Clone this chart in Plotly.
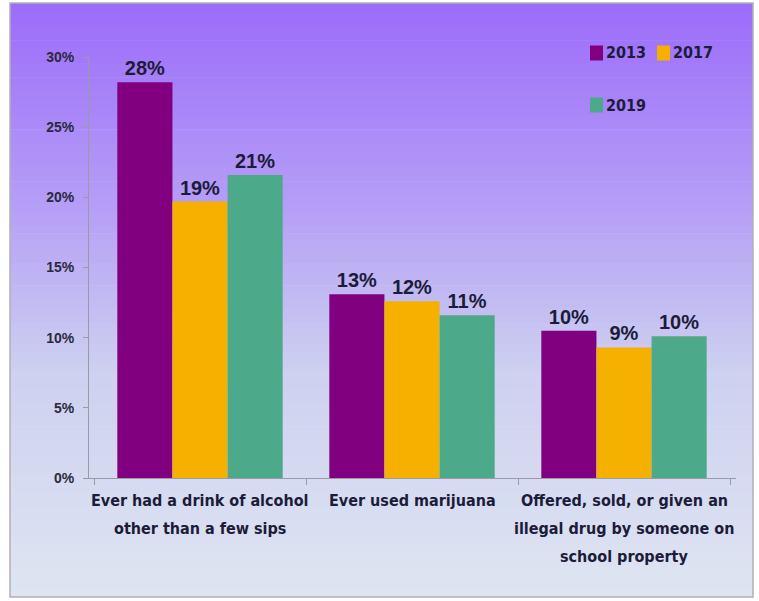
import plotly.graph_objects as go

categories = [
    "Ever had a drink of alcohol<br>other than a few sips",
    "Ever used marijuana",
    "Offered, sold, or given an<br>illegal drug by someone on<br>school property",
]
years = ["2013", "2017", "2019"]
values_2013 = [28.2, 13.1, 10.5]
values_2017 = [19.7, 12.6, 9.3]
values_2019 = [21.6, 11.6, 10.1]
labels_2013 = ["28%", "13%", "10%"]
labels_2017 = ["19%", "12%", "9%"]
labels_2019 = ["21%", "11%", "10%"]
y_ticks = [0, 5, 10, 15, 20, 25, 30]
y_tick_labels = ["0%", "5%", "10%", "15%", "20%", "25%", "30%"]

colors = {"2013": "#800080", "2017": "#F5B000", "2019": "#4CA98A"}
series = {
    "2013": (values_2013, labels_2013),
    "2017": (values_2017, labels_2017),
    "2019": (values_2019, labels_2019),
}
# legend placement in pixels (left of swatch, vertical centre)
legend_pos = {"2013": (590, 53), "2017": (657, 53), "2019": (590, 105)}

W, H = 759, 601
ML, MR, MT, MB = 89, 23, 57, 123
PW, PH = W - ML - MR, H - MT - MB

NARROW = "DejaVu Sans Condensed, Liberation Sans Narrow, Arial Narrow, sans-serif"
ARIAL = "Liberation Sans, Arial, sans-serif"
TXT = "#1c1c3a"

fig = go.Figure()
for yr in years:
    vals, labs = series[yr]
    fig.add_trace(go.Bar(
        x=categories, y=vals, name=yr,
        marker=dict(color=colors[yr], line=dict(width=0)),
        text=labs, textposition="outside", cliponaxis=False,
        textfont=dict(family=ARIAL, size=20, color=TXT),
        texttemplate="<b>%{text}</b>",
        hoverinfo="skip",
    ))

def py(p):
    return (H - MB - p) / PH

def pxx(x):
    return (x - ML) / PW

stops = [(0.0, (156, 108, 250)), (0.35, (182, 160, 246)),
         (0.62, (205, 208, 240)), (1.0, (222, 229, 241))]

def col_at(t):
    for (t0, c0), (t1, c1) in zip(stops[:-1], stops[1:]):
        if t0 <= t <= t1:
            f = (t - t0) / (t1 - t0)
            return "rgb(%d,%d,%d)" % tuple(round(a + (b - a) * f) for a, b in zip(c0, c1))
    return "rgb(%d,%d,%d)" % stops[-1][1]

top, bot, left, right = 3, 597, 10, 753
n = 80
shapes = []
for i in range(n):
    p0 = top + (bot - top) * i / n
    p1 = top + (bot - top) * (i + 1) / n + 0.6
    shapes.append(dict(type="rect", xref="paper", yref="paper", layer="below",
                       x0=pxx(left), x1=pxx(right),
                       y0=py(min(p1, bot)), y1=py(p0),
                       fillcolor=col_at(i / (n - 1)), line=dict(width=0)))
shapes.append(dict(type="rect", xref="paper", yref="paper", layer="below",
                   x0=pxx(left), x1=pxx(right), y0=py(bot), y1=py(top),
                   fillcolor="rgba(0,0,0,0)", line=dict(width=1.5, color="#b0b0b8")))

annotations = []
# manual legend
for yr in years:
    lx, ly = legend_pos[yr]
    shapes.append(dict(type="rect", xref="paper", yref="paper",
                       x0=pxx(lx), x1=pxx(lx + 13), y0=py(ly + 7.5), y1=py(ly - 7.5),
                       fillcolor=colors[yr], line=dict(width=0)))
    annotations.append(dict(xref="paper", yref="paper", x=pxx(lx + 14), y=py(ly),
                            xanchor="left", yanchor="middle", showarrow=False,
                            text="<b>" + yr + "</b>",
                            font=dict(family=NARROW, size=16, color=TXT)))
# category labels, one annotation per line for the wide line spacing
for cat in categories:
    for k, line in enumerate(cat.split("<br>")):
        annotations.append(dict(xref="x", yref="paper", x=cat, y=py(500 + 28 * k),
                                xanchor="center", yanchor="middle", showarrow=False,
                                text="<b>" + line + "</b>",
                                font=dict(family=NARROW, size=16, color=TXT)))

fig.update_layout(
    width=W, height=H,
    margin=dict(l=ML, r=MR, t=MT, b=MB, autoexpand=False),
    paper_bgcolor="white", plot_bgcolor="rgba(0,0,0,0)",
    barmode="group", bargap=0.22, bargroupgap=0,
    shapes=shapes, annotations=annotations,
    showlegend=False,
    font=dict(family=ARIAL, color=TXT),
    xaxis=dict(showline=True, linecolor="#9a9aa6", linewidth=1, automargin=False,
               ticks="outside", tickson="boundaries", ticklen=6, tickcolor="#9a9aa6",
               showticklabels=False, showgrid=False),
    yaxis=dict(range=[0, 30], tickvals=y_ticks,
               ticktext=["<b>" + t + "</b>" for t in y_tick_labels],
               showline=True, linecolor="#9a9aa6", linewidth=1, automargin=False,
               ticks="outside", ticklen=5, tickcolor="#9a9aa6", ticklabelstandoff=6,
               tickfont=dict(family=ARIAL, size=14, color="#2a2a3c"),
               showgrid=False, zeroline=False),
)
fig.write_html("out.html", config={"displayModeBar": False},
               post_script="document.body.style.margin='0';")
